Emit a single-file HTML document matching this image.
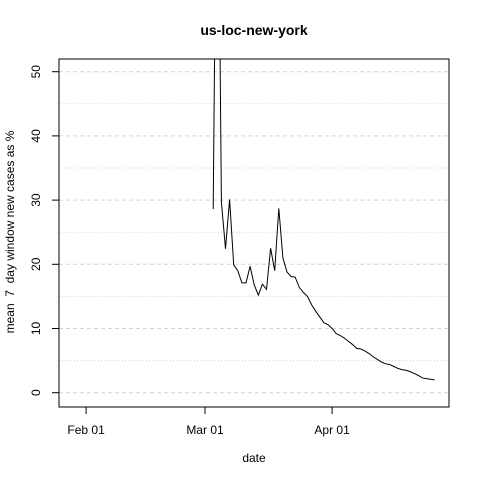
<!DOCTYPE html>
<html><head><meta charset="utf-8"><style>
body{margin:0;background:#fff;}
svg{display:block;font-family:"Liberation Sans",Arial,sans-serif;}
</style></head><body>
<svg id="chart" width="480" height="480">
<text x="254" y="35" text-anchor="middle" font-size="14" font-weight="bold">us-loc-new-york</text>
<text x="254" y="462" text-anchor="middle" font-size="12">date</text>
<text transform="translate(14,232) rotate(-90)" text-anchor="middle" font-size="12" style="white-space:pre">mean  7  day window new cases as %</text>
<g id="grid"></g><g id="axes"></g>
<clipPath id="clip"><rect x="59" y="59" width="390" height="348"/></clipPath>
<polyline id="series" clip-path="url(#clip)" fill="none" stroke="#000" stroke-width="1"/>
<rect x="59" y="59" width="390" height="348" fill="none" stroke="#000" stroke-width="1"/>
</svg>
<script>
// day offsets from Mar 01
const days=[2,3,4,5,6,7,8,9,10,11,12,13,14,15,16,17,18,19,20,21,22,23,24,25,26,27,28,29,30,31,32,33,34,35,36,37,38,39,40,41,42,43,44,45,46,47,48,49,50,51,52,53,54,55,56];
const values=[28.6,100,29.7,22.4,30.1,19.9,19,17.1,17.1,19.7,16.8,15.2,16.9,16.1,22.5,19,28.7,21,18.8,18.1,18,16.4,15.6,15,13.7,12.7,11.8,10.9,10.6,10,9.2,8.9,8.5,8,7.5,6.9,6.8,6.5,6.1,5.6,5.2,4.8,4.5,4.4,4.1,3.8,3.6,3.5,3.3,3.0,2.7,2.3,2.2,2.1,2.0];
const yTicks=[0,10,20,30,40,50];
const yMinor=[5,15,25,35,45];
const xTickDays=[-29,0,31];
const xTickLabels=["Feb 01","Mar 01","Apr 01"];
const xS=d=>205+4.1*d;
const yS=v=>392.7-6.42*v;
const NS="http://www.w3.org/2000/svg";
const grid=document.getElementById('grid'),axes=document.getElementById('axes');
function mk(tag,at,par){const e=document.createElementNS(NS,tag);for(const k in at)e.setAttribute(k,at[k]);par.appendChild(e);return e;}
yTicks.forEach(v=>{
 const g=mk('line',{x1:59,x2:449,y1:yS(v),y2:yS(v),stroke:'#d3d3d3','stroke-dasharray':'4,3'},grid);
 
 
 const t=mk('line',{x1:52,x2:59,y1:yS(v),y2:yS(v),stroke:'#000'},axes);
 
 
 const l=mk('text',{transform:`translate(40,${yS(v)}) rotate(-90)`,'text-anchor':'middle','font-size':'12'},axes);
 l.textContent=v;
 
 
});
yMinor.forEach(v=>{
 const g=mk('line',{x1:59,x2:449,y1:yS(v),y2:yS(v),stroke:'#d3d3d3','stroke-dasharray':'1,2'},grid);
 
 
});
xTickDays.forEach((d,i)=>{
 const t=mk('line',{x1:xS(d),x2:xS(d),y1:407,y2:414,stroke:'#000'},axes);
 
 
 const l=mk('text',{x:xS(d),y:434,'text-anchor':'middle','font-size':'12'},axes);
 l.textContent=xTickLabels[i];
 
 
});
document.getElementById('series').setAttribute('points',days.map((d,i)=>xS(d)+','+yS(values[i])).join(' '));
</script>
</body></html>
